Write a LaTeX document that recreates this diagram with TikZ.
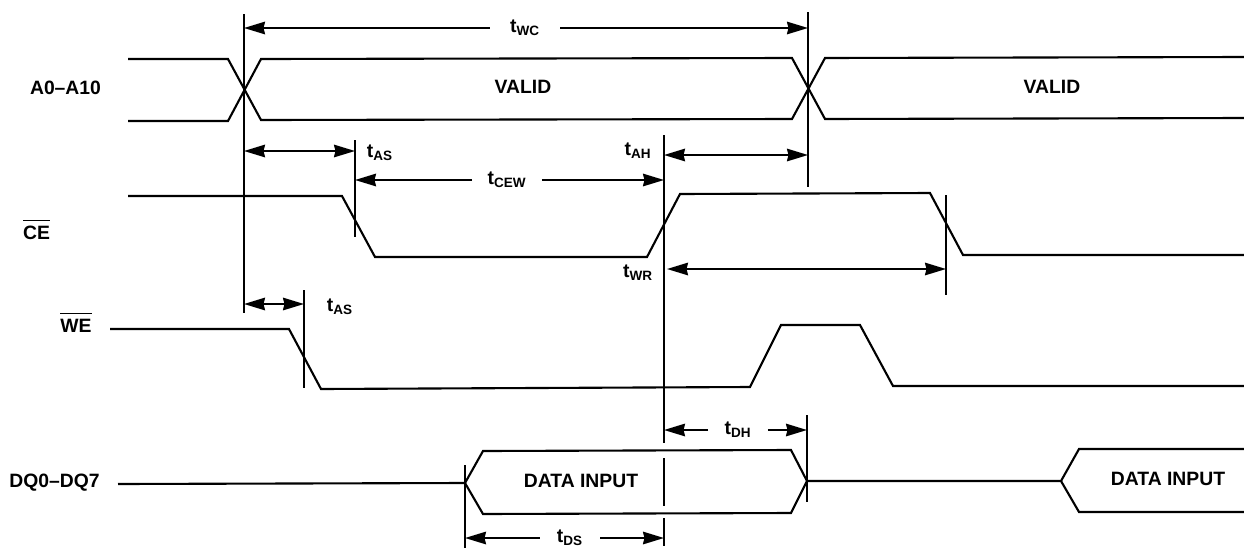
\documentclass[tikz,border=0pt]{standalone}
\usepackage{fontspec}
\setmainfont{Liberation Sans}
\usetikzlibrary{arrows.meta}

\newcommand{\tsub}[1]{t\textsubscript{#1}}
\newcommand{\nsig}[1]{$\overline{\rule{0pt}{9.5pt}\hbox{#1}}$}

\tikzset{
  wave/.style={line width=1.2pt, line join=miter},
  mark line/.style={line width=1.2pt},
  dimtip/.tip={Stealth[length=0.42cm,width=0.25cm,inset=0.03cm]},
  dim/.style={line width=1.2pt, dimtip-dimtip},
  dimhalf/.style={line width=1.2pt, -dimtip},
  lbl/.style={font=\fontsize{11}{13}\selectfont\bfseries, inner sep=0pt},
  tlbl/.style={lbl, inner xsep=5pt},
}

\begin{document}
\begin{tikzpicture}[x=0.02cm, y=-0.02cm]
  \useasboundingbox (0,0) rectangle (1244,548);

  % signal names
  \node[lbl] (nAddr) at (65.5,88) {A0--A10};
  \node[lbl] (nCE) at (36.5,229) {\nsig{CE}};
  \node[lbl] (nWE) at (76,322) {\nsig{WE}};
  \node[lbl] (nDQ) at (54.5,483) {DQ0--DQ7};

  % address
  \draw[wave] (128,59) -- (228,59) -- (261,120) -- (792,119) -- (825,58) -- (1244,57);
  \draw[wave] (128,121) -- (228,121) -- (261,59) -- (792,58) -- (825,119) -- (1244,118);
  \node[lbl] (vA) at (523,87) {VALID};
  \node[lbl] (vB) at (1052,87) {VALID};

  % chip enable and write enable
  \draw[wave] (128,196) -- (342,196) -- (375,257) -- (647,257) -- (680,194) -- (930,193) -- (963,255) -- (1244,255);
  \draw[wave] (110,329) -- (289,329) -- (321,389) -- (750,387) -- (781,325) -- (860,325) -- (893,386) -- (1244,386);

  % data
  \draw[wave] (118,484) -- (465,483) -- (483,451) -- (791,450) -- (807,481) -- (791,513) -- (483,514) -- (465,483);
  \draw[wave] (807,481) -- (1061,481) -- (1079,449) -- (1244,449);
  \draw[wave] (1061,481) -- (1079,512) -- (1244,512);
  \node[lbl] (dA) at (581,481) {DATA INPUT};
  \node[lbl] (dB) at (1168,479) {DATA INPUT};

  % vertical markers
  \coordinate (mA) at (244,14);
  \coordinate (mB) at (808,12);
  \coordinate (mC) at (355,140);
  \coordinate (mD) at (664,135);
  \coordinate (mE) at (946,195);
  \coordinate (mF) at (304,290);
  \coordinate (mG) at (465,465);
  \coordinate (mH) at (807,415);
  \draw[mark line] (mA) -- (244,313);
  \draw[mark line] (mB) -- (808,187);
  \draw[mark line] (mC) -- (355,237);
  \draw[mark line] (mD) -- (664,443);
  \draw[mark line] (664,458) -- (664,506);
  \draw[mark line] (664,518) -- (664,546);
  \draw[mark line] (mE) -- (946,295);
  \draw[mark line] (mF) -- (304,388);
  \draw[mark line] (mG) -- (465,548);
  \draw[mark line] (mH) -- (807,502);

  % timings
  \node[tlbl, inner xsep=0.4cm] (tWC) at (525,28) {\tsub{WC}};
  \draw[dimhalf] (tWC.west) -- (tWC.west -| mA);
  \draw[dimhalf] (tWC.east) -- (tWC.east -| mB);

  \node[tlbl, inner xsep=0.3cm] (tCEW) at (507,180) {\tsub{CEW}};
  \draw[dimhalf] (tCEW.west) -- (tCEW.west -| mC);
  \draw[dimhalf] (tCEW.east) -- (tCEW.east -| mD);

  \node[tlbl, inner xsep=0.32cm] (tDH) at (738,430) {\tsub{DH}};
  \draw[dimhalf] (tDH.west) -- (tDH.west -| mD);
  \draw[dimhalf] (tDH.east) -- (tDH.east -| mH);

  \node[tlbl, inner xsep=0.34cm] (tDS) at (570,538) {\tsub{DS}};
  \draw[dimhalf] (tDS.west) -- (tDS.west -| mG);
  \draw[dimhalf] (tDS.east) -- (tDS.east -| mD);

  \draw[dim] (mA |- 0,151) -- (mC |- 0,151);
  \node[tlbl] (tASa) at (380,153) {\tsub{AS}};
  \draw[dim] (mD |- 0,155) -- (mB |- 0,155);
  \node[tlbl] (tAH) at (638,151) {\tsub{AH}};
  \draw[dim] (667,269) -- (mE |- 0,269);
  \node[tlbl] (tWR) at (638,273) {\tsub{WR}};
  \draw[dim] (mA |- 0,304) -- (mF |- 0,304);
  \node[tlbl] (tASb) at (340,307) {\tsub{AS}};
\end{tikzpicture}
\end{document}
